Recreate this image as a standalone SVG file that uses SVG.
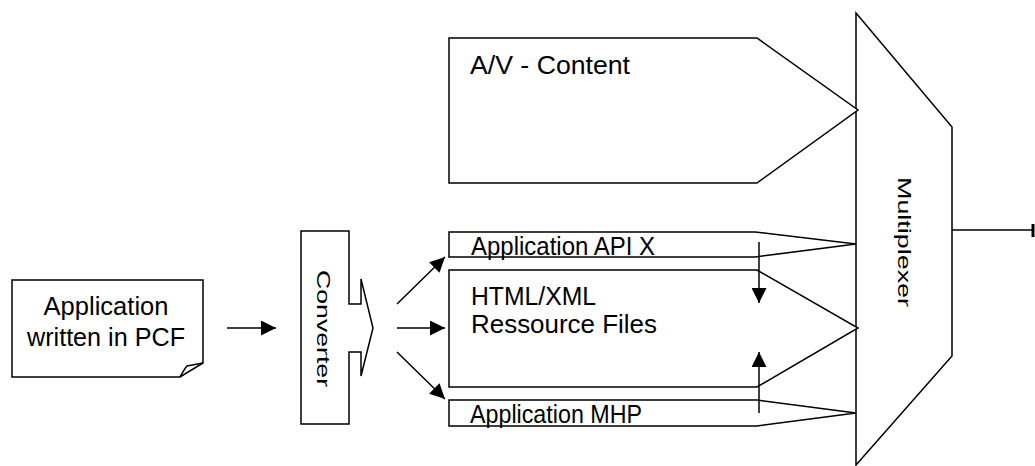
<svg xmlns="http://www.w3.org/2000/svg" width="1035" height="466" viewBox="0 0 1035 466">
<style>
.s{fill:#fff;stroke:#000;stroke-width:1.5;stroke-linejoin:miter}
.l{fill:none;stroke:#000;stroke-width:1.5}
.t{font-family:"Liberation Sans",Arial,sans-serif;font-size:25px;fill:#000}
.r{font-family:"Liberation Sans",Arial,sans-serif;font-size:19px;fill:#000}
</style>
<defs>
<marker id="ah" markerWidth="16" markerHeight="15" refX="15" refY="7.5" orient="auto" markerUnits="userSpaceOnUse">
<path d="M0,0 L15,7.5 L0,15 Z" fill="#000"/>
</marker>
</defs>
<rect width="1035" height="466" fill="#fff"/>
<g id="mux">
<path class="s" d="M856,13 L952,127 L952,356 L856,465 Z"/>
<text class="r" transform="translate(905,242) rotate(90)" x="0" y="7" text-anchor="middle" textLength="130" lengthAdjust="spacingAndGlyphs">Multiplexer</text>
</g>
<g id="av">
<path class="s" d="M449,38 H757 L858,110 L757,183 H449 Z"/>
<text class="t" x="470" y="74" textLength="160" lengthAdjust="spacingAndGlyphs">A/V - Content</text>
</g>
<g id="apix">
<path class="s" d="M449,232 H755 L856,244 L755,257 H449 Z"/>
<text class="t" x="471" y="255" textLength="184" lengthAdjust="spacingAndGlyphs">Application API X</text>
</g>
<g id="html">
<path class="s" d="M449,270 H757 L858,328 L757,387 H449 Z"/>
<text class="t" x="471" y="305" textLength="125" lengthAdjust="spacingAndGlyphs">HTML/XML</text>
<text class="t" x="471" y="333" textLength="186" lengthAdjust="spacingAndGlyphs">Ressource Files</text>
</g>
<g id="mhp">
<path class="s" d="M449,400 H757 L856,413 L757,426 H449 Z"/>
<text class="t" x="470" y="423" textLength="172" lengthAdjust="spacingAndGlyphs">Application MHP</text>
</g>
<g id="pcf">
<path class="s" d="M12,280 H203 V363 L180,377 H12 Z"/>
<path class="l" d="M180,377 C183,372 185,368 187,366 L203,363"/>
<text class="t" x="106" y="315" text-anchor="middle" textLength="125" lengthAdjust="spacingAndGlyphs">Application</text>
<text class="t" x="106" y="346" text-anchor="middle" textLength="158" lengthAdjust="spacingAndGlyphs">written in PCF</text>
</g>
<g id="converter">
<path class="s" d="M301,231 H349 V304 H361 V279 L373,328 L361,376 V352 H349 V424 H301 Z"/>
<text class="r" transform="translate(323.5,328.5) rotate(90)" x="0" y="7" text-anchor="middle" textLength="117" lengthAdjust="spacingAndGlyphs">Converter</text>
</g>
<g id="connectors">
<line class="l" x1="227" y1="328" x2="276" y2="328" marker-end="url(#ah)"/>
<line class="l" x1="397" y1="304" x2="445" y2="257" marker-end="url(#ah)"/>
<line class="l" x1="397" y1="328" x2="445" y2="328" marker-end="url(#ah)"/>
<line class="l" x1="397" y1="352" x2="445" y2="399" marker-end="url(#ah)"/>
<line class="l" x1="759" y1="242" x2="759" y2="303" marker-end="url(#ah)"/>
<line class="l" x1="759" y1="413" x2="759" y2="352" marker-end="url(#ah)"/>
<line class="l" x1="952" y1="230" x2="1033" y2="230"/>
<rect x="1031.5" y="224" width="3" height="13" fill="#000"/>
</g>
</svg>
